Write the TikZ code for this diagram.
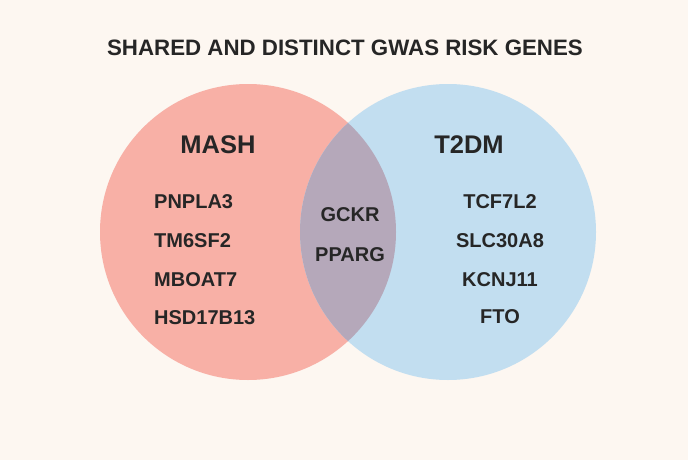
\documentclass[tikz,border=0pt]{standalone}
\usepackage{fontspec}
\setmainfont{Liberation Sans}
\definecolor{bg}{RGB}{253,247,241}
\definecolor{mashc}{RGB}{248,176,166}
\definecolor{t2dmc}{RGB}{194,222,240}
\definecolor{bothc}{RGB}{181,168,186}
\definecolor{ink}{RGB}{38,38,38}
\begin{document}
\begin{tikzpicture}[x=1pt,y=-1pt,
  setcircle/.style={circle, inner sep=0pt, minimum size=296pt},
  gene/.style={font=\fontsize{20}{24}\selectfont\bfseries, text=ink, inner sep=0pt},
  setlabel/.style={font=\fontsize{25.5}{30}\selectfont\bfseries, text=ink, inner sep=0pt},
  titlestyle/.style={font=\fontsize{22.3}{27}\selectfont\bfseries, text=ink, inner sep=0pt}]
\fill[bg] (0,0) rectangle (688,460);
\useasboundingbox (0,0) rectangle (688,460);
\node[setcircle, fill=mashc] (L) at (248,232) {};
\node[setcircle, fill=t2dmc] (R) at (448,232) {};
\begin{scope}
  \clip (248,232) circle (148pt);
  \fill[bothc] (448,232) circle (148pt);
\end{scope}
\node[titlestyle, anchor=base] (title) at (345,56) {SHARED AND DISTINCT GWAS RISK GENES};
\node[setlabel, anchor=base] (mash) at (218,153) {MASH};
\node[setlabel, anchor=base] (t2dm) at (469,153) {T2DM};
\node[gene, anchor=base west] (g1) at (154,208) {PNPLA3};
\node[gene, anchor=base west] (g2) at (154,247) {TM6SF2};
\node[gene, anchor=base west] (g3) at (154,286) {MBOAT7};
\node[gene, anchor=base west] (g4) at (154,324) {HSD17B13};
\node[gene, anchor=base] (s1) at (350,221) {GCKR};
\node[gene, anchor=base] (s2) at (350,261) {PPARG};
\node[gene, anchor=base] (r1) at (500,208) {TCF7L2};
\node[gene, anchor=base] (r2) at (500,247) {SLC30A8};
\node[gene, anchor=base] (r3) at (500,286) {KCNJ11};
\node[gene, anchor=base] (r4) at (500,323) {FTO};
\end{tikzpicture}
\end{document}
